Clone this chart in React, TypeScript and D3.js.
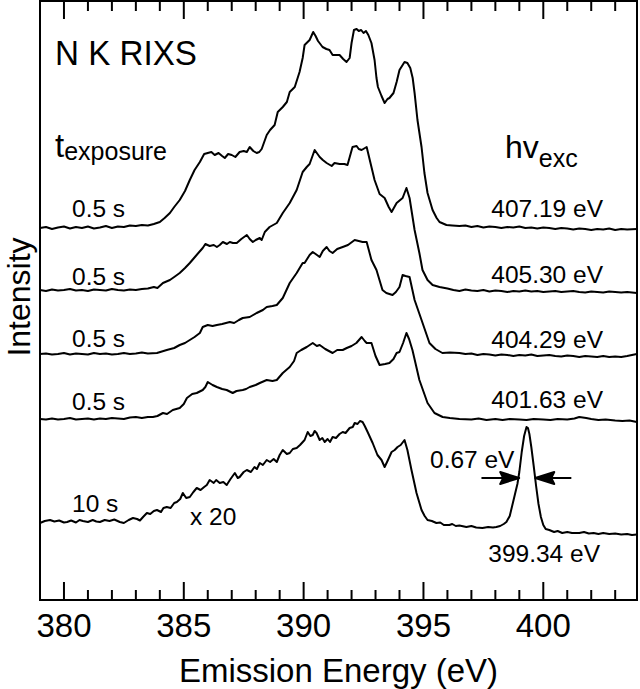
import React from "react";
import * as d3 from "d3";

// ---------- data (emission energy in eV, intensity in arbitrary units above each trace baseline) ----------
const excitationLabels = ["407.19 eV", "405.30 eV", "404.29 eV", "401.63 eV", "399.34 eV"];
const exposureLabels = ["0.5 s", "0.5 s", "0.5 s", "0.5 s", "10 s"];
const traceOffsets = [37.2, 31.0, 24.6, 18.1, 7.8];
const xTickValues = [380, 385, 390, 395, 400];
const xTickLabels = ["380", "385", "390", "395", "400"];
const fwhmCenter = 399.33;
const fwhmWidth = 0.67;
const fwhmLevel = 4.4;

const trace40719: [number, number][] = [
  [379.0, 0.0], [379.25, 0.1], [379.5, -0.1], [379.75, 0.05], [380.0, 0.15], [380.25, -0.05], [380.5, 0.1],
  [380.75, 0.0], [381.0, 0.15], [381.25, -0.05], [381.5, 0.05], [381.75, 0.2], [382.0, 0.0], [382.25, 0.15],
  [382.5, 0.1], [382.75, 0.25], [383.0, 0.2], [383.25, 0.3], [383.5, 0.25], [383.75, 0.4], [384.0, 0.6],
  [384.2, 1.0], [384.42, 1.5], [384.6, 2.1], [384.83, 2.8], [385.05, 3.7], [385.25, 4.8], [385.45, 5.8],
  [385.67, 6.6], [385.85, 7.4], [386.0, 7.5], [386.15, 7.6], [386.29, 7.3], [386.45, 7.5], [386.6, 7.2],
  [386.71, 7.0], [386.85, 7.4], [387.0, 7.3], [387.15, 7.1], [387.33, 7.6], [387.5, 7.7], [387.63, 7.6],
  [387.75, 8.1], [387.9, 7.7], [388.04, 7.5], [388.15, 7.6], [388.25, 7.9], [388.46, 9.3], [388.6, 9.8],
  [388.79, 10.3], [388.92, 11.6], [389.13, 12.1], [389.3, 12.6], [389.42, 13.6], [389.63, 14.1], [389.83, 15.6],
  [389.96, 17.0], [390.04, 18.3], [390.25, 18.8], [390.4, 19.6], [390.5, 19.2], [390.6, 18.7], [390.79, 18.1],
  [390.95, 17.9], [391.08, 17.8], [391.21, 17.3], [391.5, 17.3], [391.65, 16.9], [391.79, 16.6], [391.92, 17.0],
  [392.0, 18.5], [392.1, 19.8], [392.21, 19.9], [392.3, 19.7], [392.4, 19.8], [392.5, 19.5], [392.6, 19.7],
  [392.7, 19.3], [392.83, 18.5], [392.96, 16.8], [393.04, 15.0], [393.1, 14.1], [393.25, 13.2], [393.38, 12.5],
  [393.5, 12.9], [393.58, 13.0], [393.75, 13.5], [393.88, 14.6], [394.0, 15.8], [394.21, 16.6], [394.33, 16.5],
  [394.45, 16.0], [394.55, 15.0], [394.63, 13.5], [394.75, 10.8], [394.92, 8.1], [395.04, 5.5], [395.17, 3.5],
  [395.38, 1.8], [395.55, 1.0], [395.67, 0.6], [395.96, 0.3], [396.2, 0.25], [396.5, 0.2], [396.75, 0.25],
  [397.0, 0.1], [397.25, 0.2], [397.5, 0.05], [397.75, 0.15], [398.0, 0.1], [398.25, 0.0], [398.5, 0.1],
  [398.75, 0.05], [399.0, 0.15], [399.25, 0.0], [399.5, 0.05], [399.75, -0.05], [400.0, 0.05], [400.25, 0.0],
  [400.5, -0.1], [400.75, 0.0], [401.0, -0.05], [401.25, -0.15], [401.5, -0.05], [401.75, -0.1], [402.0, -0.2],
  [402.25, -0.1], [402.5, -0.15], [402.75, -0.05], [403.0, -0.2], [403.25, -0.1], [403.5, -0.15], [403.9, -0.1],
];

const trace40530: [number, number][] = [
  [379.0, 0.0], [379.25, -0.1], [379.5, 0.05], [379.75, -0.05], [380.0, 0.0], [380.25, 0.1], [380.5, -0.05],
  [380.75, 0.0], [381.0, -0.1], [381.25, 0.05], [381.5, 0.0], [381.75, -0.05], [382.0, 0.1], [382.25, 0.0],
  [382.5, -0.05], [382.75, 0.05], [383.0, 0.0], [383.25, 0.1], [383.5, 0.15], [383.75, 0.3], [383.9, 0.2],
  [384.13, 0.7], [384.42, 1.0], [384.6, 1.3], [384.83, 1.7], [385.05, 2.2], [385.25, 2.7], [385.5, 3.4],
  [385.79, 4.2], [385.9, 4.6], [386.08, 4.4], [386.25, 4.5], [386.38, 4.3], [386.5, 4.5], [386.63, 4.8],
  [386.8, 4.6], [386.92, 4.8], [387.05, 4.7], [387.21, 4.7], [387.4, 5.1], [387.63, 5.5], [387.75, 5.1],
  [387.88, 4.8], [388.0, 5.0], [388.17, 5.2], [388.25, 5.0], [388.38, 5.8], [388.58, 6.3], [388.88, 6.7],
  [389.13, 7.7], [389.42, 8.7], [389.71, 10.0], [389.96, 11.8], [390.13, 12.3], [390.25, 12.6], [390.46, 14.0],
  [390.67, 13.3], [390.8, 13.0], [390.96, 12.7], [391.17, 12.4], [391.29, 12.7], [391.5, 12.6], [391.7, 12.6],
  [391.83, 12.5], [392.04, 14.3], [392.21, 14.4], [392.3, 14.1], [392.42, 14.0], [392.63, 14.3], [392.83, 12.3],
  [392.96, 11.0], [393.17, 9.6], [393.38, 9.2], [393.55, 8.3], [393.67, 7.8], [393.88, 8.7], [394.13, 9.2],
  [394.29, 10.2], [394.42, 9.2], [394.63, 6.0], [394.83, 3.7], [394.96, 2.0], [395.17, 1.0], [395.38, 0.5],
  [395.67, 0.3], [396.0, 0.15], [396.25, 0.0], [396.5, -0.1], [396.75, 0.05], [397.0, -0.05], [397.25, -0.1],
  [397.5, 0.0], [397.75, -0.15], [398.0, -0.05], [398.25, -0.1], [398.5, -0.2], [398.75, -0.1], [399.0, -0.15],
  [399.25, -0.05], [399.5, -0.15], [399.75, -0.1], [400.0, -0.2], [400.25, -0.15], [400.5, -0.1], [400.75, -0.2],
  [401.0, -0.15], [401.25, -0.1], [401.5, -0.2], [401.75, -0.25], [402.0, -0.15], [402.25, -0.2], [402.5, -0.25],
  [402.75, -0.15], [403.0, -0.2], [403.25, -0.25], [403.5, -0.2], [403.9, -0.3],
];

const trace40429: [number, number][] = [
  [379.0, 0.0], [379.25, 0.05], [379.5, -0.05], [379.75, 0.0], [380.0, 0.1], [380.25, -0.05], [380.5, 0.05],
  [380.75, 0.0], [381.0, -0.05], [381.25, 0.1], [381.5, 0.0], [381.75, 0.05], [382.0, -0.05], [382.25, 0.0],
  [382.5, 0.1], [382.75, 0.0], [383.0, 0.05], [383.25, 0.15], [383.5, 0.05], [383.88, 0.1], [384.29, 0.4],
  [384.6, 0.6], [384.83, 0.9], [385.05, 1.1], [385.25, 1.4], [385.45, 1.7], [385.67, 2.1], [385.79, 2.7],
  [386.0, 2.9], [386.2, 2.8], [386.38, 2.9], [386.6, 3.0], [386.92, 3.2], [387.1, 3.1], [387.3, 3.4],
  [387.46, 3.6], [387.75, 3.7], [388.04, 4.1], [388.3, 4.4], [388.46, 4.7], [388.7, 4.8], [388.88, 4.9],
  [389.13, 5.6], [389.42, 7.1], [389.71, 8.1], [389.96, 9.1], [390.04, 9.1], [390.25, 9.9], [390.38, 10.2],
  [390.5, 10.0], [390.67, 9.7], [390.8, 10.3], [390.96, 10.7], [391.08, 10.3], [391.21, 10.1], [391.4, 10.5],
  [391.63, 10.7], [391.85, 10.9], [392.13, 11.4], [392.3, 11.3], [392.46, 11.2], [392.63, 11.2], [392.83, 9.4],
  [393.04, 8.4], [393.29, 6.4], [393.45, 6.1], [393.58, 6.0], [393.71, 5.9], [393.85, 6.2], [394.0, 6.7],
  [394.13, 7.9], [394.25, 7.8], [394.42, 7.7], [394.63, 5.4], [394.92, 3.4], [395.25, 1.1], [395.5, 0.5],
  [395.79, 0.1], [396.1, 0.15], [396.5, 0.1], [396.75, 0.0], [397.0, 0.05], [397.25, -0.1], [397.5, 0.0],
  [397.75, -0.05], [398.0, -0.15], [398.25, -0.05], [398.5, -0.1], [398.75, -0.2], [399.0, -0.1], [399.25, -0.15],
  [399.5, -0.05], [399.75, -0.2], [400.0, -0.15], [400.25, -0.1], [400.5, -0.2], [400.75, -0.25], [401.0, -0.15],
  [401.25, -0.2], [401.5, -0.3], [401.75, -0.2], [402.0, -0.25], [402.25, -0.3], [402.5, -0.2], [402.75, -0.3],
  [403.0, -0.25], [403.25, -0.3], [403.5, -0.2], [403.7, -0.1], [403.9, 0.0],
];

const trace40163: [number, number][] = [
  [379.0, 0.0], [379.25, -0.05], [379.5, 0.05], [379.75, -0.05], [380.0, 0.0], [380.25, 0.1], [380.5, -0.05],
  [380.75, 0.0], [381.0, 0.05], [381.25, -0.05], [381.5, 0.05], [381.75, 0.0], [382.0, 0.1], [382.25, 0.05],
  [382.5, 0.0], [382.75, 0.15], [383.0, 0.2], [383.25, 0.1], [383.5, 0.2], [383.71, 0.2], [383.9, 0.3],
  [384.13, 0.6], [384.3, 0.5], [384.54, 0.9], [384.83, 1.1], [385.0, 1.5], [385.13, 2.1], [385.35, 2.5],
  [385.54, 2.6], [385.79, 2.9], [385.9, 3.2], [386.0, 3.7], [386.2, 3.4], [386.38, 3.2], [386.6, 3.0],
  [386.79, 2.9], [387.04, 2.6], [387.2, 2.8], [387.46, 2.9], [387.6, 3.0], [387.75, 3.2], [388.0, 3.4],
  [388.17, 3.6], [388.46, 3.9], [388.7, 3.8], [388.88, 3.9], [389.13, 4.6], [389.42, 5.2], [389.6, 5.8],
  [389.71, 6.6], [389.9, 6.9], [390.13, 7.2], [390.38, 7.6], [390.55, 7.3], [390.67, 7.4], [390.9, 7.0],
  [391.21, 6.6], [391.4, 6.9], [391.63, 6.9], [391.8, 7.1], [392.0, 7.3], [392.2, 7.6], [392.42, 8.2],
  [392.55, 7.8], [392.63, 7.6], [392.83, 7.6], [393.0, 6.3], [393.17, 5.4], [393.4, 5.5], [393.58, 5.6],
  [393.75, 6.0], [393.88, 6.6], [394.0, 6.7], [394.15, 7.6], [394.29, 8.6], [394.4, 8.0], [394.54, 6.9],
  [394.83, 3.9], [395.17, 1.6], [395.46, 0.6], [395.8, 0.2], [396.1, 0.1], [396.5, 0.0], [397.0, -0.05],
  [397.3, 0.05], [397.63, -0.1], [398.0, 0.0], [398.3, -0.1], [398.6, 0.0], [399.0, -0.05], [399.3, -0.1],
  [399.6, 0.0], [400.0, -0.05], [400.3, -0.1], [400.6, 0.0], [401.0, -0.05], [401.3, 0.05], [401.5, 0.2],
  [401.79, 0.1], [402.0, 0.0], [402.3, -0.1], [402.6, -0.05], [403.0, -0.15], [403.3, -0.2], [403.6, -0.15],
  [403.9, -0.3],
];

const trace39934: [number, number][] = [
  [379.0, -0.1], [379.2, 0.1], [379.42, 0.2], [379.6, 0.05], [379.8, 0.15], [380.0, -0.05], [380.13, 0.0],
  [380.3, 0.15], [380.5, -0.05], [380.65, 0.2], [380.79, 0.1], [381.0, 0.0], [381.2, 0.2], [381.35, 0.05],
  [381.5, 0.0], [381.7, 0.2], [381.9, 0.1], [382.1, 0.25], [382.33, 0.0], [382.5, -0.1], [382.7, 0.2],
  [382.88, 0.4], [383.05, 0.3], [383.17, 0.15], [383.3, 0.5], [383.46, 0.9], [383.6, 0.8], [383.75, 1.1],
  [383.88, 1.2], [384.05, 1.0], [384.15, 1.4], [384.29, 1.5], [384.45, 1.4], [384.6, 1.9], [384.71, 2.0],
  [384.85, 2.3], [384.96, 2.9], [385.1, 2.4], [385.25, 2.5], [385.4, 3.0], [385.54, 3.4], [385.7, 3.2],
  [385.85, 3.5], [385.96, 3.7], [386.08, 4.2], [386.25, 3.9], [386.35, 4.2], [386.5, 3.9], [386.65, 4.0],
  [386.79, 3.7], [386.95, 4.3], [387.13, 4.9], [387.25, 4.4], [387.33, 4.5], [387.5, 5.0], [387.63, 5.2],
  [387.8, 5.0], [387.95, 5.5], [388.05, 5.3], [388.17, 5.9], [388.3, 5.7], [388.46, 6.2], [388.6, 6.0],
  [388.75, 6.3], [388.88, 6.0], [389.0, 6.7], [389.13, 7.2], [389.3, 6.8], [389.42, 6.9], [389.55, 7.3],
  [389.71, 7.4], [389.85, 7.7], [390.04, 8.2], [390.17, 9.0], [390.28, 8.6], [390.38, 8.7], [390.46, 9.1],
  [390.54, 8.9], [390.67, 8.2], [390.78, 8.4], [390.88, 8.0], [391.0, 8.3], [391.1, 8.0], [391.21, 8.5],
  [391.35, 8.4], [391.5, 8.8], [391.63, 9.0], [391.75, 8.9], [391.92, 9.4], [392.05, 9.5], [392.13, 9.9],
  [392.25, 9.8], [392.35, 10.1], [392.46, 10.0], [392.55, 9.6], [392.67, 9.0], [392.88, 7.9], [393.08, 6.7],
  [393.25, 6.2], [393.38, 5.5], [393.5, 6.1], [393.67, 7.0], [393.8, 7.2], [393.92, 7.5], [394.05, 7.7],
  [394.21, 8.2], [394.33, 7.2], [394.5, 5.2], [394.71, 2.9], [394.92, 1.2], [395.05, 0.6], [395.17, 0.2],
  [395.35, 0.1], [395.54, -0.1], [395.7, -0.05], [395.85, -0.3], [396.08, -0.3], [396.2, -0.2], [396.35, -0.4],
  [396.5, -0.35], [396.79, -0.5], [397.0, -0.4], [397.2, -0.55], [397.46, -0.6], [397.7, -0.5], [397.9, -0.55],
  [398.04, -0.5], [398.2, -0.4], [398.35, -0.2], [398.46, 0.0], [398.6, 0.6], [398.71, 1.7], [398.82, 2.8],
  [398.92, 3.8], [399.0, 5.0], [399.1, 7.0], [399.2, 8.6], [399.3, 9.5], [399.36, 9.4], [399.42, 8.8],
  [399.5, 7.5], [399.6, 5.6], [399.7, 3.6], [399.8, 1.8], [399.9, 0.5], [400.0, -0.3], [400.1, -0.7],
  [400.25, -0.8], [400.45, -1.0], [400.6, -0.9], [400.79, -1.1], [401.0, -1.0], [401.2, -1.1], [401.5, -1.1],
  [401.7, -1.0], [401.9, -1.15], [402.1, -1.1], [402.3, -1.2], [402.5, -1.1], [402.75, -1.2], [403.0, -1.15],
  [403.25, -1.25], [403.5, -1.2], [403.7, -1.3], [403.9, -1.25],
];

const traces = [trace40719, trace40530, trace40429, trace40163, trace39934];

// ---------- layout ----------
const W = 640;
const H = 689;
const FRAME = { left: 40, right: 637, top: 1, bottom: 600 };
const FONT = "'Liberation Sans', Arial, Helvetica, sans-serif";

export default function App() {
  const x = d3.scaleLinear().domain([379, 403.91]).range([FRAME.left, FRAME.right]);
  const y = d3.scaleLinear().domain([0, 60]).range([600, 0]);

  const minorTicks = d3.range(379, 404);

  const leftLabelY = [217, 285, 347, 410, 512];
  const rightLabelY = [217, 283, 348, 408, 562];

  const arrowY = y(traceOffsets[4] + fwhmLevel);
  const tipL = x(fwhmCenter - fwhmWidth / 2);
  const tipR = x(fwhmCenter + fwhmWidth / 2);
  const headLen = 19;
  const headHalf = 6;

  return (
    <svg
      width={W}
      height={H}
      style={{ position: "absolute", left: 0, top: 0, background: "#fff" }}
      fontFamily={FONT}
    >
      <rect x={0} y={0} width={W} height={H} fill="#fff" />

      {/* traces */}
      {traces.map((tr, i) => {
        const line = d3
          .line<[number, number]>()
          .x((d) => x(d[0]))
          .y((d) => y(d[1] + traceOffsets[i]));
        return (
          <path
            key={i}
            d={line(tr) || ""}
            fill="none"
            stroke="#000"
            strokeWidth={2}
            strokeLinejoin="round"
            strokeLinecap="round"
          />
        );
      })}

      {/* frame */}
      <rect
        x={FRAME.left}
        y={FRAME.top}
        width={FRAME.right - FRAME.left}
        height={FRAME.bottom - FRAME.top}
        fill="none"
        stroke="#000"
        strokeWidth={2}
      />

      {/* ticks */}
      {minorTicks.map((t) => {
        const major = t % 5 === 0;
        const len = major ? 18 : 10;
        const px = x(t);
        if (px <= FRAME.left + 1 || px >= FRAME.right - 1) return null;
        return (
          <g key={t} stroke="#000" strokeWidth={2}>
            <line x1={px} x2={px} y1={FRAME.bottom} y2={FRAME.bottom - len} />
            <line x1={px} x2={px} y1={FRAME.top} y2={FRAME.top + len} />
          </g>
        );
      })}
      {xTickValues.map((t, i) => (
        <text key={t} x={x(t)} y={637} fontSize={33} textAnchor="middle" fill="#000">
          {xTickLabels[i]}
        </text>
      ))}

      {/* axis titles */}
      <text x={(FRAME.left + FRAME.right) / 2} y={682} fontSize={33} textAnchor="middle" fill="#000">
        Emission Energy (eV)
      </text>
      <text
        transform={`translate(30, 297) rotate(-90)`}
        fontSize={32}
        textAnchor="middle"
        fill="#000"
      >
        Intensity
      </text>

      {/* annotations */}
      <text x={55} y={65} fontSize={35} textLength={142} lengthAdjust="spacingAndGlyphs" fill="#000">
        N K RIXS
      </text>
      <text x={55} y={157} fontSize={33} fill="#000">
        t<tspan fontSize={25} dy={3}>exposure</tspan>
      </text>
      <text x={505} y={158} fontSize={32} fill="#000">
        hv<tspan fontSize={25} dy={9}>exc</tspan>
      </text>

      {exposureLabels.map((lab, i) => (
        <text key={"e" + i} x={72} y={leftLabelY[i]} fontSize={24.5} fill="#000">
          {lab}
        </text>
      ))}
      {excitationLabels.map((lab, i) => (
        <text key={"h" + i} x={i === 4 ? 600 : 603} y={rightLabelY[i]} fontSize={24.5} textAnchor="end" fill="#000">
          {lab}
        </text>
      ))}
      <text x={190} y={525} fontSize={24.5} fill="#000">
        x 20
      </text>

      {/* FWHM marker */}
      <text x={430} y={468} fontSize={24.5} fill="#000">
        {`${fwhmWidth.toFixed(2)} eV`}
      </text>
      <line x1={x(397.42)} x2={tipL} y1={arrowY} y2={arrowY} stroke="#000" strokeWidth={2} />
      <line x1={tipR} x2={x(401.17)} y1={arrowY} y2={arrowY} stroke="#000" strokeWidth={2} />
      <path
        d={`M${tipL},${arrowY} L${tipL - headLen},${arrowY - headHalf} L${tipL - headLen + 3},${arrowY} L${tipL - headLen},${arrowY + headHalf} Z`}
        fill="#000"
        stroke="#000"
        strokeWidth={2}
        strokeLinejoin="round"
      />
      <path
        d={`M${tipR},${arrowY} L${tipR + headLen},${arrowY - headHalf} L${tipR + headLen - 3},${arrowY} L${tipR + headLen},${arrowY + headHalf} Z`}
        fill="#000"
        stroke="#000"
        strokeWidth={2}
        strokeLinejoin="round"
      />
    </svg>
  );
}
